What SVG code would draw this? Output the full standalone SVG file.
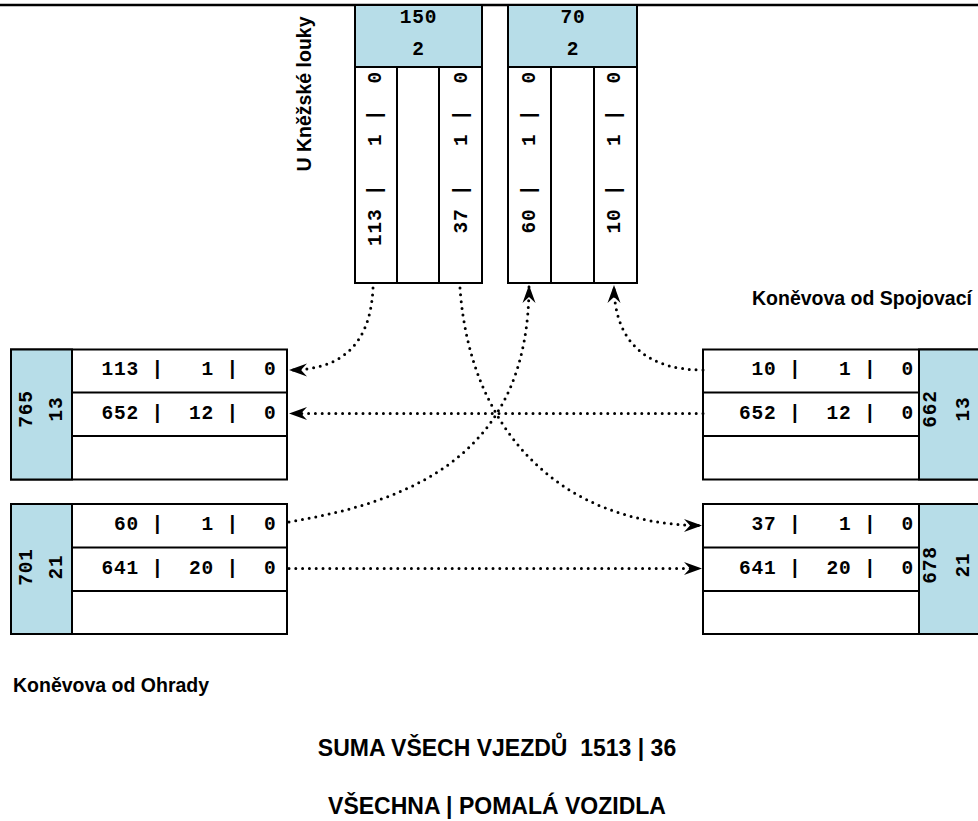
<svg xmlns="http://www.w3.org/2000/svg" width="978" height="821" viewBox="0 0 978 821">
<style>
.box{fill:#ffffff;stroke:#000;stroke-width:2}
.hd{fill:#b7dde8;stroke:#000;stroke-width:2}
.ln{stroke:#000;stroke-width:2;fill:none}
.m{font-family:"Liberation Mono","Courier New",monospace;font-weight:bold;font-size:19.5px;letter-spacing:0.8px;fill:#000;white-space:pre}
.c{text-anchor:middle}
.s{font-family:"Liberation Sans",Arial,sans-serif;font-weight:bold;fill:#000;white-space:pre}
.con{fill:none;stroke:#000;stroke-width:3;stroke-linecap:round;stroke-dasharray:0 6.8}
</style>
<defs>
<marker id="vee" markerUnits="userSpaceOnUse" markerWidth="22" markerHeight="16" viewBox="0 -8 19 16" refX="18" refY="0" orient="auto" overflow="visible">
<path d="M0,-6.5 L18,0 L0,6.5 L6,0 Z" fill="#000"/>
</marker>
</defs>
<rect width="978" height="821" fill="#fff"/>
<line x1="0" y1="5" x2="978" y2="5" stroke="#000" stroke-width="2.5"/>

<g id="top-label">
<text class="s" font-size="19.5" text-anchor="middle" transform="translate(311,94) rotate(-90)">U Kněžské louky</text>
</g>

<g id="top1">
<rect class="box" x="355" y="5" width="127" height="278"/>
<rect class="hd" x="355" y="5" width="127" height="62"/>
<line class="ln" x1="397" y1="67" x2="397" y2="283"/>
<line class="ln" x1="439" y1="67" x2="439" y2="283"/>
<text class="m c" x="418.5" y="23.3">150</text>
<text class="m c" x="418.5" y="55">2</text>
<text class="m" xml:space="preserve" transform="translate(381,246) rotate(-90)">113 |   1 |  0</text>
<text class="m" xml:space="preserve" transform="translate(466.5,246) rotate(-90)"> 37 |   1 |  0</text>
</g>

<g id="top2">
<rect class="box" x="508" y="5" width="129" height="278"/>
<rect class="hd" x="508" y="5" width="129" height="62"/>
<line class="ln" x1="551" y1="67" x2="551" y2="283"/>
<line class="ln" x1="594" y1="67" x2="594" y2="283"/>
<text class="m c" x="573" y="23.3">70</text>
<text class="m c" x="573" y="55">2</text>
<text class="m" xml:space="preserve" transform="translate(535,246) rotate(-90)"> 60 |   1 |  0</text>
<text class="m" xml:space="preserve" transform="translate(620,246) rotate(-90)"> 10 |   1 |  0</text>
</g>

<g id="left1">
<rect class="box" x="11" y="349.5" width="276" height="130"/>
<rect class="hd" x="11" y="349.5" width="61" height="130"/>
<line class="ln" x1="72" y1="392.5" x2="287" y2="392.5"/>
<line class="ln" x1="72" y1="436" x2="287" y2="436"/>
<text class="m c" transform="translate(32,409) rotate(-90)">765</text>
<text class="m c" transform="translate(61.5,409) rotate(-90)">13</text>
<text class="m" xml:space="preserve" x="101.5" y="375">113 |   1 |  0</text>
<text class="m" xml:space="preserve" x="101.5" y="418.5">652 |  12 |  0</text>
</g>

<g id="left2">
<rect class="box" x="11" y="504" width="276" height="130"/>
<rect class="hd" x="11" y="504" width="61" height="130"/>
<line class="ln" x1="72" y1="547.5" x2="287" y2="547.5"/>
<line class="ln" x1="72" y1="591" x2="287" y2="591"/>
<text class="m c" transform="translate(32,567) rotate(-90)">701</text>
<text class="m c" transform="translate(61.5,567) rotate(-90)">21</text>
<text class="m" xml:space="preserve" x="101.5" y="530"> 60 |   1 |  0</text>
<text class="m" xml:space="preserve" x="101.5" y="573.5">641 |  20 |  0</text>
</g>

<g id="right1">
<rect class="box" x="703" y="349.5" width="277" height="130"/>
<rect class="hd" x="919" y="349.5" width="61" height="130"/>
<line class="ln" x1="703" y1="392.5" x2="919" y2="392.5"/>
<line class="ln" x1="703" y1="436" x2="919" y2="436"/>
<text class="m c" transform="translate(936,409) rotate(-90)">662</text>
<text class="m c" transform="translate(968.5,409) rotate(-90)">13</text>
<text class="m" xml:space="preserve" x="739" y="375"> 10 |   1 |  0</text>
<text class="m" xml:space="preserve" x="739" y="418.5">652 |  12 |  0</text>
</g>

<g id="right2">
<rect class="box" x="703" y="504" width="277" height="130"/>
<rect class="hd" x="919" y="504" width="61" height="130"/>
<line class="ln" x1="703" y1="547.5" x2="919" y2="547.5"/>
<line class="ln" x1="703" y1="591" x2="919" y2="591"/>
<text class="m c" transform="translate(936,565) rotate(-90)">678</text>
<text class="m c" transform="translate(968.5,565) rotate(-90)">21</text>
<text class="m" xml:space="preserve" x="739" y="530"> 37 |   1 |  0</text>
<text class="m" xml:space="preserve" x="739" y="573.5">641 |  20 |  0</text>
</g>

<g id="connectors">
<path class="con" marker-end="url(#vee)" d="M373,288 C370,355 330,370 289,370"/>
<path class="con" marker-end="url(#vee)" d="M703,370 C650,370 614,345 614,285"/>
<path class="con" marker-end="url(#vee)" d="M703,413.5 L289,413.5"/>
<path class="con" marker-end="url(#vee)" d="M289,522 C420,500 529,450 529,285"/>
<path class="con" marker-end="url(#vee)" d="M460,288 C470,430 560,525 702,525.5"/>
<path class="con" marker-end="url(#vee)" d="M289,568.5 L702,568.5"/>
</g>

<g id="labels">
<text class="s" font-size="19.5" x="752" y="305">Koněvova od Spojovací</text>
<text class="s" font-size="19.5" x="13" y="692">Koněvova od Ohrady</text>
<text class="s" font-size="23" x="497" y="756" text-anchor="middle" xml:space="preserve">SUMA VŠECH VJEZDŮ  1513 | 36</text>
<text class="s" font-size="23" x="497" y="814" text-anchor="middle">VŠECHNA | POMALÁ VOZIDLA</text>
</g>
</svg>
